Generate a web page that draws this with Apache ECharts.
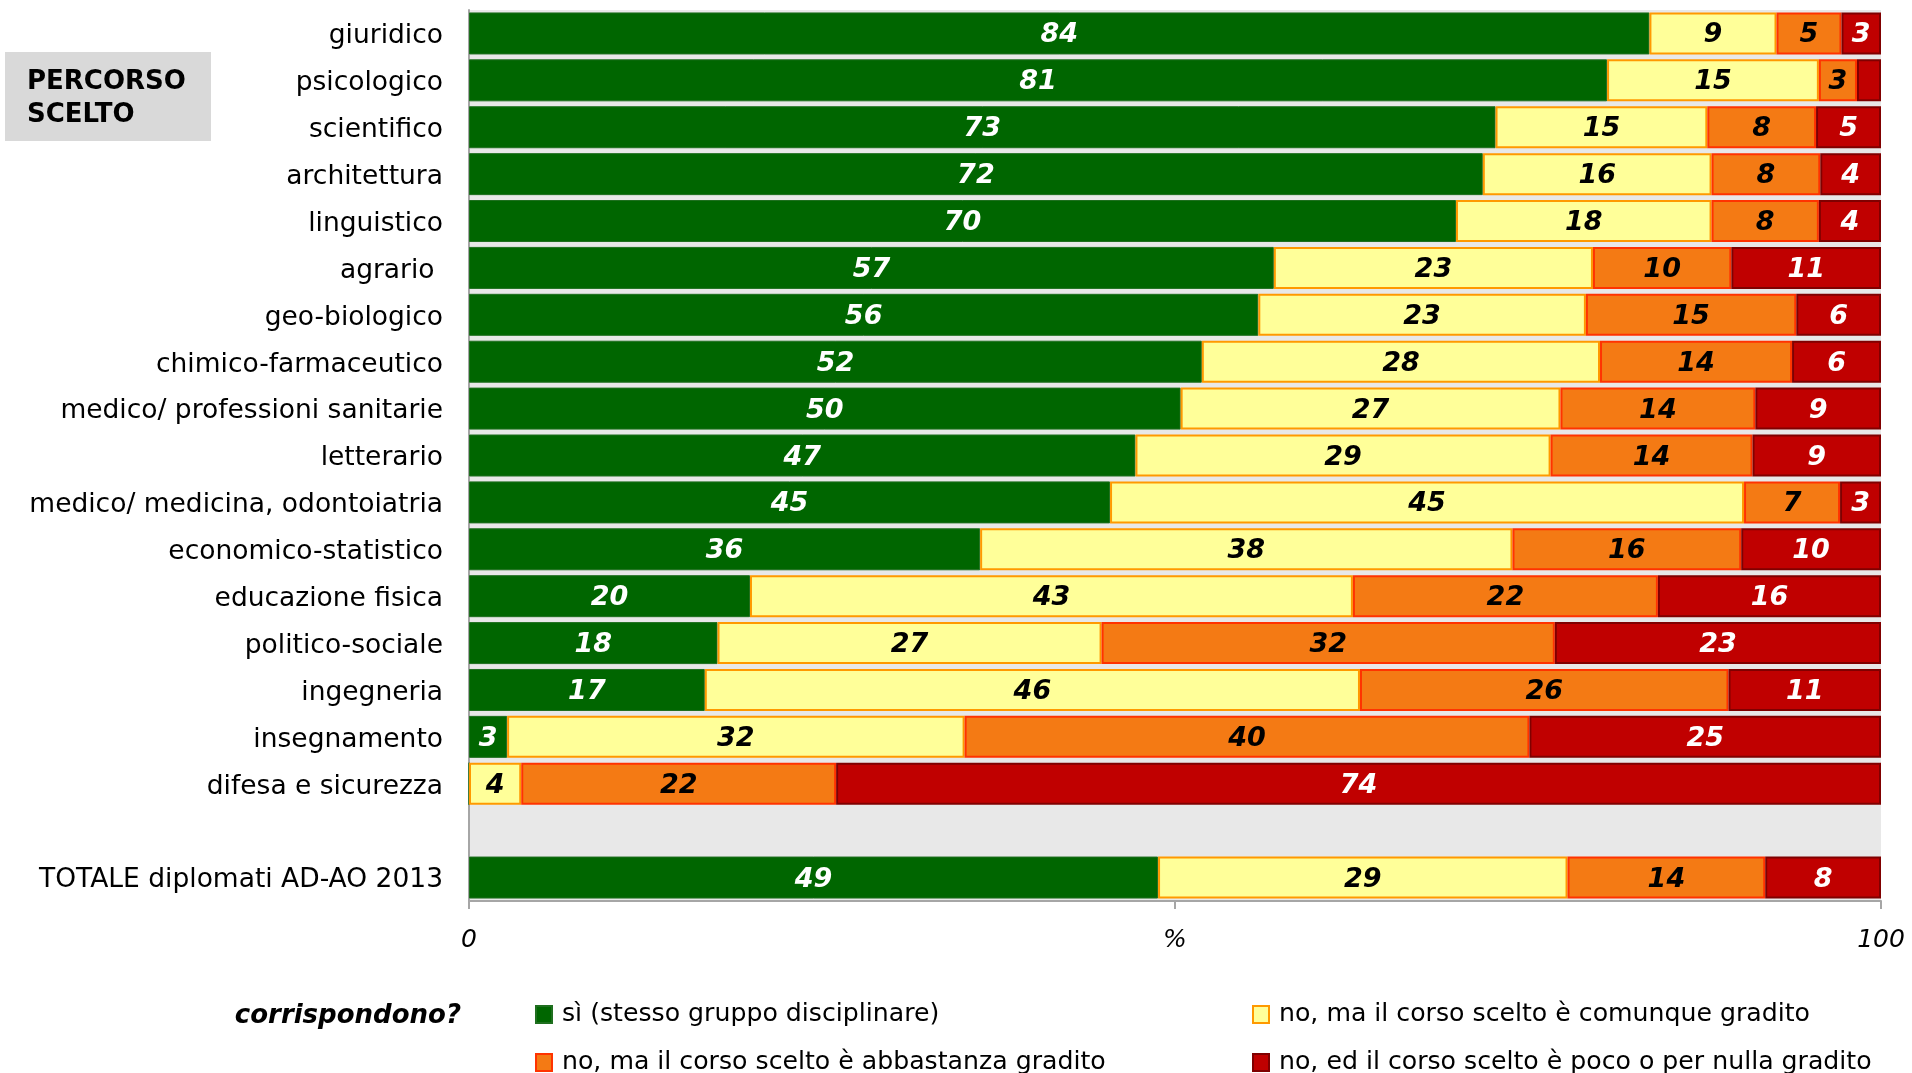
<!DOCTYPE html>
<html>
<head>
<meta charset="utf-8">
<script src="https://cdn.jsdelivr.net/npm/echarts@6/dist/echarts.min.js"></script>
<style>
html,body{margin:0;padding:0;background:#fff;}
#chart{width:1912px;height:1073px;}
</style>
</head>
<body>
<div id="chart"></div>
<script>
// Categories (top to bottom); '' is the empty spacer row
const categories = [
  'giuridico','psicologico','scientifico','architettura','linguistico','agrario ',
  'geo-biologico','chimico-farmaceutico','medico/ professioni sanitarie','letterario',
  'medico/ medicina, odontoiatria','economico-statistico','educazione fisica',
  'politico-sociale','ingegneria','insegnamento','difesa e sicurezza','',
  'TOTALE diplomati AD-AO 2013'
];
// Percent values (labels show rounded values)
const si        = [83.6, 80.6, 72.7, 71.8, 69.9, 57.0, 55.9, 51.9, 50.4, 47.2, 45.4, 36.2, 19.9, 17.6, 16.7, 2.7, 0, null, 48.8];
const comunque  = [9.0, 15.0, 15.0, 16.2, 18.1, 22.6, 23.2, 28.2, 26.9, 29.4, 44.9, 37.7, 42.7, 27.2, 46.4, 32.4, 3.7, null, 29.0];
const abbastanza= [4.6, 2.7, 7.7, 7.7, 7.6, 9.8, 14.9, 13.6, 13.8, 14.3, 6.8, 16.2, 21.6, 32.1, 26.1, 40.0, 22.3, null, 14.0];
const poco      = [2.8, 1.7, 4.6, 4.3, 4.4, 10.6, 6.0, 6.3, 8.9, 9.1, 2.9, 9.9, 15.8, 23.1, 10.8, 24.9, 74.0, null, 8.2];

const seriesNames = [
  'sì (stesso gruppo disciplinare)',
  'no, ma il corso scelto è comunque gradito',
  'no, ma il corso scelto è abbastanza gradito',
  'no, ed il corso scelto è poco o per nulla gradito'
];
const xTickLabels = {0: '0', 50: '%', 100: '100'};

const FONT = 'DejaVu Sans';

function mkSeries(name, data, fill, border, bw, labelColor) {
  return {
    name: name,
    type: 'bar',
    stack: 'tot',
    data: data,
    barWidth: 42,
    itemStyle: {color: fill, borderColor: border, borderWidth: bw},
    label: {
      show: true,
      position: 'inside',
      offset: [0, 2],
      color: labelColor,
      fontFamily: FONT,
      fontWeight: 'bold',
      fontStyle: 'italic',
      fontSize: 27,
      formatter: function (p) {
        if (p.value == null || p.value < 2) return '';
        return String(Math.round(p.value));
      }
    },
    emphasis: {disabled: true},
    animation: false
  };
}

const chart = echarts.init(document.getElementById('chart'), null, {renderer: 'canvas'});

function legendAt(name, left, top) {
  return {
    data: [name],
    left: left,
    top: top,
    orient: 'horizontal',
    icon: 'rect',
    itemWidth: 16,
    itemHeight: 17,
    selectedMode: false,
    textStyle: {fontFamily: FONT, fontSize: 25.2, color: '#000', padding: [0, 0, 0, 5]}
  };
}

chart.setOption({
  animation: false,
  backgroundColor: '#ffffff',
  grid: {
    left: 469, right: 31, top: 10, bottom: 172,
    show: true, backgroundColor: '#e8e8e8', borderWidth: 0
  },
  xAxis: {
    type: 'value',
    min: 0, max: 100, interval: 50,
    axisLine: {show: true, lineStyle: {color: '#a6a6a6', width: 2}},
    axisTick: {show: true, length: 8, lineStyle: {color: '#a6a6a6', width: 2}},
    splitLine: {show: false},
    axisLabel: {
      margin: 27,
      fontFamily: FONT, fontStyle: 'italic', fontSize: 25, color: '#000',
      formatter: function (v) { return xTickLabels[v] != null ? xTickLabels[v] : ''; }
    }
  },
  yAxis: {
    type: 'category',
    inverse: true,
    data: categories,
    axisLine: {show: true, lineStyle: {color: '#a6a6a6', width: 2}},
    axisTick: {show: false},
    axisLabel: {
      margin: 26,
      formatter: function (v) { return v ? '{c|' + v + '}' : ''; },
      rich: {c: {fontFamily: FONT, fontSize: 26.5, color: '#000', padding: [6, 0, 0, 0]}}
    }
  },
  legend: [
    legendAt(seriesNames[0], 530, 997),
    legendAt(seriesNames[1], 1247, 997),
    legendAt(seriesNames[2], 530, 1045),
    legendAt(seriesNames[3], 1247, 1045)
  ],
  graphic: [
    {type: 'rect', left: 5, top: 52, shape: {width: 206, height: 89}, style: {fill: '#d9d9d9'}, silent: true},
    {type: 'text', left: 27, top: 66, style: {text: 'PERCORSO\nSCELTO', fill: '#000', font: 'bold 26px "DejaVu Sans"', lineHeight: 33}, silent: true},
    {type: 'text', right: 1912 - 461, top: 1003, style: {text: 'corrispondono?', fill: '#000', font: 'italic bold 26px "DejaVu Sans"', align: 'right'}, silent: true}
  ],
  series: [
    mkSeries(seriesNames[0], si, '#006600', '#1f6f1f', 1, '#ffffff'),
    mkSeries(seriesNames[1], comunque, '#ffff99', '#ff9900', 2, '#000000'),
    mkSeries(seriesNames[2], abbastanza, '#f47a14', '#ff3300', 2, '#000000'),
    mkSeries(seriesNames[3], poco, '#c00000', '#800000', 2, '#ffffff')
  ]
});
</script>
</body>
</html>
